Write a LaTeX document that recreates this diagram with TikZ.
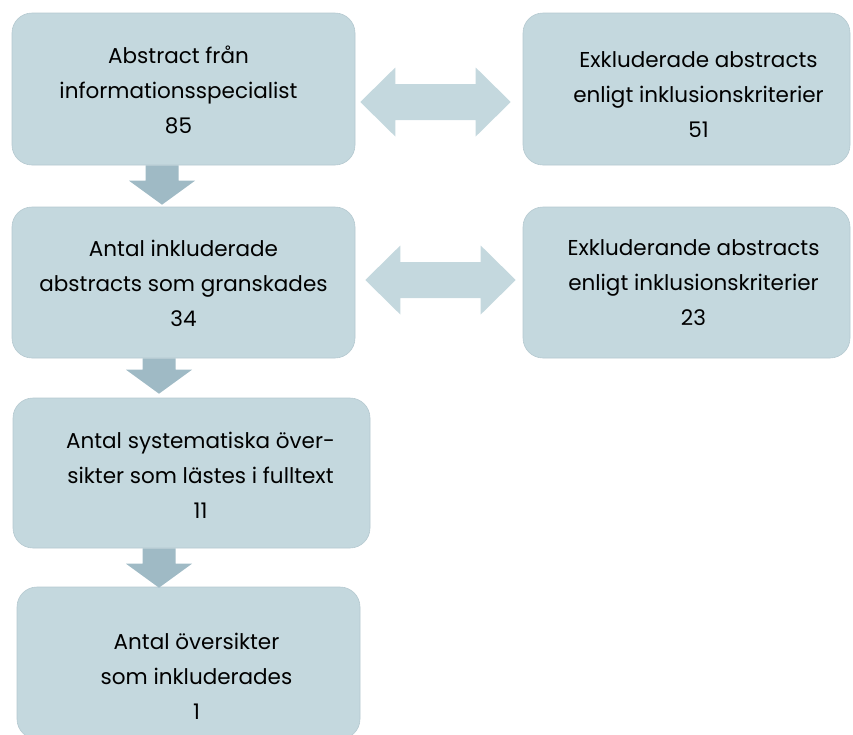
\documentclass[tikz,border=0pt]{standalone}
\usepackage{fontspec}
\setmainfont{Poppins}
\usetikzlibrary{calc}
\definecolor{boxfill}{HTML}{C4D8DE}
\definecolor{boxline}{HTML}{B5C9D0}
\definecolor{arrowdark}{HTML}{9FBAC5}
\tikzset{
  box/.style={draw=boxline,fill=boxfill,rounded corners=20pt,line width=0.6pt,inner sep=0pt},
  txt/.style={align=center,inner sep=0pt,font=\fontsize{21.5}{35}\selectfont},
  blockdown/.style={fill=arrowdark,to path={let \p1=(\tikztostart),\p2=(\tikztotarget) in
    (\x1-16.5,\y1)--(\x1+16.5,\y1)--(\x1+16.5,\y2+24)--(\x1+33,\y2+24)--(\x1,\y2)
    --(\x1-33,\y2+24)--(\x1-16.5,\y2+24)--cycle}},
  blockboth/.style={fill=boxfill,to path={let \p1=(\tikztostart),\p2=(\tikztotarget) in
    (\x1,\y1)--(\x1+35,\y1+34.5)--(\x1+35,\y1+18)--(\x2-35,\y1+18)--(\x2-35,\y1+34.5)--(\x2,\y1)
    --(\x2-35,\y1-34.5)--(\x2-35,\y1-18)--(\x1+35,\y1-18)--(\x1+35,\y1-34.5)--cycle}}
}
\begin{document}
\begin{tikzpicture}[x=1pt,y=-1pt]
\useasboundingbox (0,0) rectangle (853,734);
\clip (0,0) rectangle (853,734);
\node[box,minimum width=343pt,minimum height=152pt] (b1) at (183.5,89) {};
\node[box,minimum width=343pt,minimum height=151pt] (b2) at (183.5,282.5) {};
\node[box,minimum width=357pt,minimum height=150pt] (b3) at (191.5,473) {};
\node[box,minimum width=343pt,minimum height=152pt] (b4) at (188.5,663) {};
\node[box,minimum width=327pt,minimum height=152pt] (r1) at (686.5,89) {};
\node[box,minimum width=327pt,minimum height=151pt] (r2) at (686.5,282.5) {};
\node[txt] (t1) at ([xshift=-5pt,yshift=-1pt]b1) {Abstract från\\informationsspecialist\\85};
\node[txt] (t2) at ([yshift=-1pt]b2) {Antal inkluderade\\abstracts som granskades\\34};
\node[txt] (t3) at ([xshift=9pt,yshift=-2pt]b3) {Antal systematiska över-\\sikter som lästes i fulltext\\11};
\node[txt] (t4) at ([xshift=8pt,yshift=-13pt]b4) {Antal översikter\\som inkluderades\\1};
\node[txt] (s1) at ([xshift=12pt,yshift=-6pt]r1) {Exkluderade abstracts\\enligt inklusionskriterier\\51};
\node[txt] (s2) at ([xshift=7pt]r2) {Exkluderande abstracts\\enligt inklusionskriterier\\23};
\fill[blockdown] ([xshift=-21.5pt]b1.south) to ([yshift=2pt]b2.north);
\fill[blockdown] ([xshift=-24.5pt]b2.south) to ([yshift=4pt]b3.north);
\fill[blockdown] ([xshift=-32.5pt]b3.south) to ([yshift=-1pt]b4.north);
\fill[blockboth] ([shift={(5pt,-13pt)}]b1.east) to ([xshift=-12pt]r1.west);
\fill[blockboth] ([shift={(10pt,2.5pt)}]b2.east) to ([xshift=-7pt]r2.west);
\end{tikzpicture}
\end{document}
